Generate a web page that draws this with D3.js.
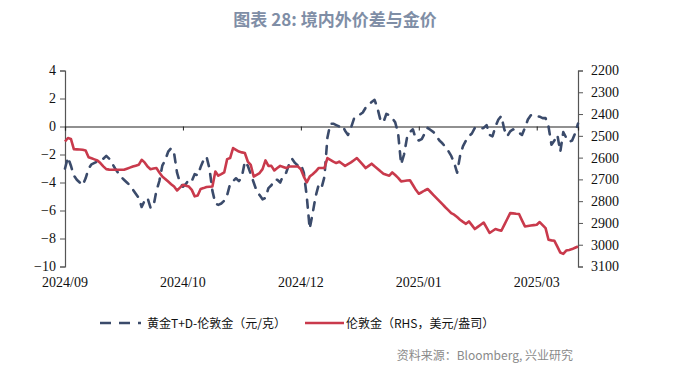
<!DOCTYPE html>
<html>
<head>
<meta charset="utf-8">
<script src="https://cdn.jsdelivr.net/npm/d3@7"></script>
<style>
  html, body { margin: 0; padding: 0; background: #fff; }
  svg { display: block; }
</style>
</head>
<body>
<div id="chart"></div>
<script>
// trading-day index 0..174, tick every 40 days
var tickIdx = [0, 40, 80, 120, 160];
var tickLabels = ["2024/09", "2024/10", "2024/12", "2025/01", "2025/03"];

var leftTicks = [-10, -8, -6, -4, -2, 0, 2, 4];
var rightTicks = [2200, 2300, 2400, 2500, 2600, 2700, 2800, 2900, 3000, 3100];

// 黄金T+D - 伦敦金 (元/克)
var spread = [
  -3.0, -2.2, -2.8, -3.5, -3.8, -4.0, -4.2, -3.7, -3.0, -2.7,
  -2.6, -2.5, -2.4, -2.3, -2.1, -2.3, -2.65, -3.0, -3.3, -3.6,
  -3.8, -4.0, -4.2, -4.5, -4.8, -5.1, -5.75, -5.3, -5.1, -5.8,
  -5.7, -4.6, -3.9, -2.8, -2.4, -1.8, -1.55, -1.9, -3.3, -4.0,
  -4.3, -4.1, -3.8, -3.9, -3.4, -3.5, -2.9, -2.4, -2.15, -3.0,
  -4.6, -5.5, -5.6, -5.5, -5.3, -4.9, -4.1, -3.9, -3.7, -3.9,
  -3.6, -2.5, -2.8, -3.4, -4.0, -4.6, -4.9, -5.2, -5.1, -4.4,
  -4.2, -3.8, -3.8, -4.0, -3.5, -3.3, -2.7, -2.3, -2.6, -2.8,
  -2.7, -3.3, -5.0, -7.3, -6.2, -5.0, -4.2, -4.4, -3.6, -0.8,
  0.2, 0.2, 0.1, 0.0, 0.1, -0.3, -0.6, -0.1, 0.55, 0.75,
  0.85, 1.0, 1.35, 1.55, 1.75, 1.9, 1.3, 0.45, 0.3, 0.9,
  0.8, 0.6, 0.3, -0.5, -2.7, -2.0, -0.8, -0.4, -0.2, -0.9,
  -1.0, -0.9, -0.5, -0.1, -0.25, -0.4, -0.7, -1.0, -1.2, -1.45,
  -1.75, -2.1, -2.6, -3.3, -2.1, -1.4, -1.0, -0.7, -0.5, -0.1,
  -0.1, -0.15, -0.1, 0.1, -0.6, -0.7, 0.0, 0.5, 0.75, -0.2,
  -0.7, -0.35, -0.2, -0.35, -0.45, -0.6, -0.1, 0.5, 0.8, 0.8,
  0.75, 0.7, 0.6, 0.6, 0.0, -1.3, -1.0, -0.6, -1.8, -0.4,
  -0.8, -1.1, -1.0, -0.5, 0.2
];

// 伦敦金 (美元/盎司), right axis
var londonGold = [
  2526, 2510, 2514, 2561, 2562, 2563, 2564, 2567, 2598, 2603,
  2608, 2613, 2625, 2640, 2653, 2655, 2656, 2656, 2656, 2656,
  2656, 2651, 2646, 2641, 2637, 2633, 2610, 2622, 2641, 2653,
  2650, 2648, 2668, 2687, 2698, 2710, 2722, 2733, 2751, 2738,
  2725, 2729, 2733, 2748, 2778, 2774, 2744, 2740, 2735, 2734,
  2733, 2664, 2683, 2676, 2668, 2607, 2602, 2556, 2564, 2572,
  2576, 2579, 2618, 2633, 2687, 2679, 2671, 2653, 2613, 2638,
  2638, 2659, 2648, 2638, 2643, 2648, 2641, 2641, 2641, 2641,
  2653, 2687, 2714, 2687, 2676, 2664, 2648, 2648, 2648, 2602,
  2610, 2618, 2625, 2618, 2628, 2638, 2630, 2622, 2612, 2602,
  2617, 2632, 2648, 2638, 2628, 2640, 2651, 2663, 2674, 2679,
  2683, 2668, 2680, 2693, 2709, 2707, 2705, 2704, 2726, 2748,
  2766, 2759, 2751, 2744, 2758, 2772, 2786, 2800, 2814, 2828,
  2841, 2855, 2862, 2873, 2885, 2895, 2904, 2893, 2910, 2928,
  2918, 2908, 2898, 2922, 2946, 2937, 2928, 2932, 2936, 2909,
  2882, 2855, 2856, 2858, 2859, 2888, 2916, 2914, 2912, 2910,
  2908, 2896, 2910, 2924, 2977, 2980, 2982, 3009, 3036, 3042,
  3027, 3024, 3020, 3014, 3008
];

var width = 674, height = 374;
var plot = { left: 65, right: 578, top: 70.5, bottom: 266.5 };
var spreadColor = "#3b4b6b";
var goldColor = "#c93a4c";

var svg = d3.select("#chart")
    .append("svg")
    .attr("width", width)
    .attr("height", height)
    .style("font-family", "'Liberation Serif', serif");

var x = d3.scaleLinear().domain([0, spread.length - 1]).range([plot.left, plot.right]);
var yL = d3.scaleLinear().domain([-10, 4]).range([plot.bottom, plot.top]);
var yR = d3.scaleLinear().domain([2200, 3100]).range([plot.top, plot.bottom]);

// title
svg.append("text")
    .attr("x", 335)
    .attr("y", 26)
    .attr("text-anchor", "middle")
    .style("font-family", "'Noto Sans CJK SC', sans-serif")
    .style("font-weight", "bold")
    .style("font-size", "17px")
    .style("fill", "#7f8ea6")
    .text("图表 28: 境内外价差与金价");

// left axis
var leftAxis = d3.axisLeft(yL).tickValues(leftTicks).tickSize(5).tickPadding(4)
    .tickFormat(d3.format("d"));
var gL = svg.append("g")
    .attr("transform", "translate(" + plot.left + ",0)")
    .call(leftAxis);

// right axis
var rightAxis = d3.axisRight(yR).tickValues(rightTicks).tickSize(5).tickPadding(8)
    .tickFormat(d3.format("d"));
var gR = svg.append("g")
    .attr("transform", "translate(" + plot.right + ",0)")
    .call(rightAxis);

[gL, gR].forEach(function(g) {
    g.attr("font-family", null);
    g.select(".domain").attr("stroke", "#555").attr("stroke-width", 1.2);
    g.selectAll(".tick line").attr("stroke", "#555");
    g.selectAll("text")
        .style("font-family", "'Liberation Serif', serif")
        .style("font-size", "14px")
        .style("fill", "#111");
});

// category axis sits on the zero line, labels at the bottom
var xAxis = d3.axisBottom(x).tickValues(tickIdx).tickSize(4).tickFormat("");
var gX = svg.append("g")
    .attr("transform", "translate(0," + yL(0) + ")")
    .call(xAxis);
gX.select(".domain").attr("stroke", "#222").attr("stroke-width", 1.2);
gX.selectAll(".tick line").attr("stroke", "#222");

svg.append("g")
    .selectAll("text")
    .data(tickIdx)
    .enter().append("text")
    .attr("x", function(d) { return x(d); })
    .attr("y", plot.bottom + 20)
    .attr("text-anchor", "middle")
    .style("font-family", "'Liberation Serif', serif")
    .style("font-size", "14px")
    .style("fill", "#111")
    .text(function(d, i) { return tickLabels[i]; });

// spread, dashed
var spreadLine = d3.line()
    .x(function(d, i) { return x(i); })
    .y(function(d) { return yL(d); });

svg.append("path")
    .datum(spread)
    .attr("fill", "none")
    .attr("stroke", spreadColor)
    .attr("stroke-width", 2.6)
    .attr("stroke-dasharray", "8,8")
    .attr("stroke-linecap", "round")
    .attr("stroke-linejoin", "round")
    .attr("d", spreadLine);

// london gold, solid
var goldLine = d3.line()
    .x(function(d, i) { return x(i); })
    .y(function(d) { return yR(d); });

svg.append("path")
    .datum(londonGold)
    .attr("fill", "none")
    .attr("stroke", goldColor)
    .attr("stroke-width", 2.6)
    .attr("stroke-linejoin", "round")
    .attr("d", goldLine);

// legend
var legend = svg.append("g")
    .style("font-family", "'Noto Sans CJK SC', sans-serif")
    .style("font-size", "12px")
    .style("fill", "#111");

legend.append("line")
    .attr("x1", 100).attr("x2", 141)
    .attr("y1", 323).attr("y2", 323)
    .attr("stroke", spreadColor)
    .attr("stroke-width", 2.6)
    .attr("stroke-dasharray", "11,8");
legend.append("text")
    .attr("x", 147).attr("y", 327.5)
    .text("黄金T+D-伦敦金（元/克）");

legend.append("line")
    .attr("x1", 305).attr("x2", 344)
    .attr("y1", 323).attr("y2", 323)
    .attr("stroke", goldColor)
    .attr("stroke-width", 2.6);
legend.append("text")
    .attr("x", 346).attr("y", 327.5)
    .text("伦敦金（RHS，美元/盎司）");

// source
svg.append("text")
    .attr("x", 573)
    .attr("y", 360)
    .attr("text-anchor", "end")
    .style("font-family", "'Noto Sans CJK SC', sans-serif")
    .style("font-size", "12px")
    .style("fill", "#8a8a8a")
    .text("资料来源：Bloomberg, 兴业研究");
</script>
</body>
</html>
